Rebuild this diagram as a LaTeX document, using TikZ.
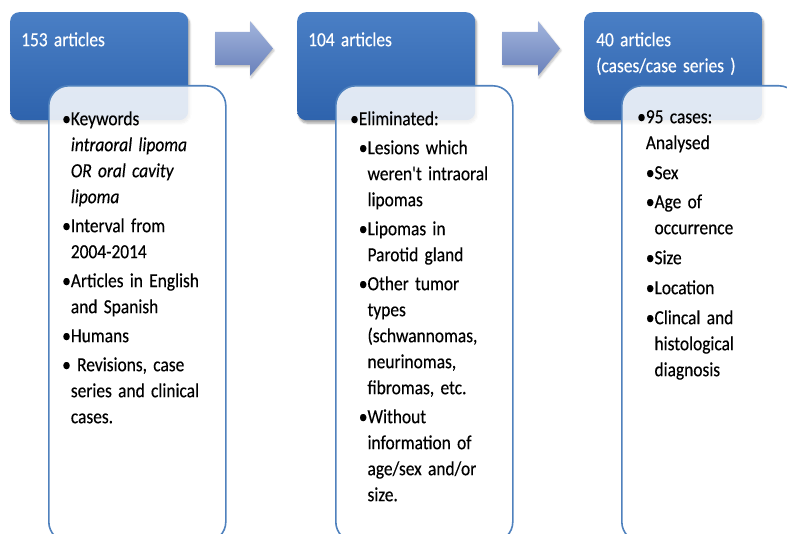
\documentclass[tikz,border=0pt]{standalone}
\usepackage{fontspec}
\setmainfont{Carlito}[FakeStretch=0.87, WordSpace=1.6, FakeBold=0.3]
\newfontfamily\nomap{Carlito}[FakeStretch=0.87, FakeBold=0.3, Ligatures=TeXOff]
\usetikzlibrary{shadows.blur}
\definecolor{bluetop}{RGB}{74,127,197}
\definecolor{bluebot}{RGB}{46,99,173}
\definecolor{boxline}{RGB}{79,129,189}
\definecolor{arrtop}{RGB}{162,180,220}
\definecolor{arrbot}{RGB}{104,128,186}
\newcommand\ind{\hphantom{•}}
\newcommand\apos{{\nomap '}}
\newcommand\fl{\rule{0pt}{15pt}}
\begin{document}
\begin{tikzpicture}[x=1pt,y=-1pt,
  bluebox/.style={rectangle, rounded corners=9pt, top color=bluetop, bottom color=bluebot,
    draw=none, minimum width=178pt, minimum height=108pt, inner sep=0pt, anchor=north west,
    blur shadow={shadow xshift=1.5pt, shadow yshift=-3pt, shadow blur steps=6, shadow opacity=35}},
  whitebox/.style={rectangle, rounded corners=20pt, fill=white, fill opacity=0.85,
    draw=boxline, line width=1.6pt, minimum width=177pt, minimum height=456pt,
    inner sep=0pt, anchor=north west},
  blockarrow/.style={top color=arrtop, bottom color=arrbot,
    blur shadow={shadow xshift=1pt, shadow yshift=-2pt, shadow blur steps=5, shadow opacity=25}},
  title/.style={anchor=north west, text=white, inner sep=0pt, align=left,
    font=\fontsize{20}{26}\selectfont},
  body/.style={anchor=north west, text=black, inner sep=0pt, align=left,
    font=\fontsize{20}{26}\selectfont},
  ]
\useasboundingbox (0,0) rectangle (787,534);
\clip (0,0) rectangle (787,534);

% blue header boxes
\node[bluebox] (b1) at (10,12) {};
\node[bluebox] (b2) at (297,12) {};
\node[bluebox] (b3) at (584,12) {};

% block arrows
\shade[blockarrow] (215,32) -- (250,32) -- (250,21) -- (273,48.5) -- (250,76) -- (250,65) -- (215,65) -- cycle;
\shade[blockarrow] (502,32) -- (538,32) -- (538,21) -- (560,48.5) -- (538,76) -- (538,65) -- (502,65) -- cycle;

% white content boxes
\node[whitebox] (w1) at (48,85) {};
\node[whitebox] (w2) at (335,85) {};
\node[whitebox] (w3) at (621,85) {};

% titles (first baseline = y + 15)
\node[title] (h1) at (21,31) {\fl 153 articles};
\node[title] (h2) at (308,31) {\fl 104 articles};
\node[title] (h3) at (596,31) {\fl 40 articles\\(cases/case series )};

% body texts
\node[body] (t1) at (62,110) {\fl •Keywords\\
\ind\textit{intraoral lipoma}\\
\ind\textit{OR oral cavity}\\
\ind\textit{lipoma}\\[3pt]
•Interval from\\
\ind 2004-2014\\[3pt]
•Articles in English\\
\ind and Spanish\\[3pt]
•Humans\\[3pt]
• Revisions, case\\
\ind series and clinical\\
\ind cases.};

\node[body] (t2) at (350,110) {\fl •Eliminated:\\[3pt]
\ind•Lesions which\\
\ind\ind weren\apos t intraoral\\
\ind\ind lipomas\\[3pt]
\ind•Lipomas in\\
\ind\ind Parotid gland\\[3pt]
\ind•Other tumor\\
\ind\ind types\\
\ind\ind (schwannomas,\\
\ind\ind neurinomas,\\
\ind\ind fibromas, etc.\\[3pt]
\ind•Without\\
\ind\ind information of\\
\ind\ind age/sex and/or\\
\ind\ind size.};

\node[body] (t3) at (637,108) {\fl •95 cases:\\
\ind Analysed\\[4pt]
\ind•Sex\\[3pt]
\ind•Age of\\
\ind\ind occurrence\\[4pt]
\ind•Size\\[4pt]
\ind•Location\\[4pt]
\ind•Clincal and\\
\ind\ind histological\\
\ind\ind diagnosis};
\end{tikzpicture}
\end{document}
